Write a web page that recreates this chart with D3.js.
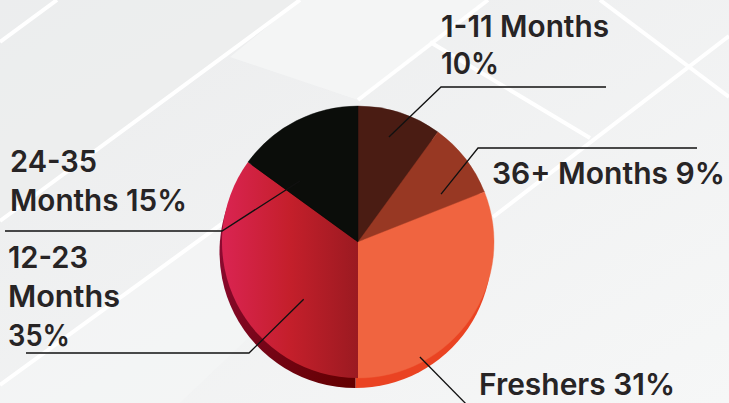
<!DOCTYPE html>
<html><head><meta charset="utf-8">
<script src="https://cdn.jsdelivr.net/npm/d3@7"></script>
<style>html,body{margin:0;padding:0;background:#eeefef;overflow:hidden}</style>
</head><body>
<svg id="c" width="729" height="403"></svg>
<script>
// ---- data ----
const categories = ["1-11 Months", "36+ Months", "Freshers", "12-23 Months", "24-35 Months"];
const values = [10, 9, 31, 35, 15];
const labelLines = [["1-11 Months", "10%"], ["36+ Months 9%"], ["Freshers 31%"], ["12-23", "Months", "35%"], ["24-35", "Months 15%"]];

// ---- styles / layout ----
const faceColors = ["#4a1c13", "#983823", "#f06440", "url(#g1223)", "#0b0d0a"];
const sideColors = ["#3a140d", "#7a2a18", "#ea4322", "url(#g1223s)", "#0b0d0a"];
const W = 729, H = 403, cx = 358, cy = 242, R = 136;
const depth = {dx: -2.5, dy: 10};
const labelLayout = [
  {x: 441, y: 37, lh: 37, widths: [168, 58], ptr: [16.4, 0.805], elbow: [441, 87], end: [606, 87]},
  {x: 492, y: 184, lh: 38, widths: [233], ptr: [60, 0.705], elbow: [478, 148], end: [697, 148]},
  {x: 479, y: 395, lh: 38, widths: [196], ptr: [151.7, 0.96], elbow: [472, 410], end: [472, 410]},
  {x: 8, y: 268, lh: 39, widths: [80, 112, 62], ptr: [223.5, 0.58], elbow: [249, 353], end: [26, 353]},
  {x: 10, y: 172, lh: 38.5, widths: [87, 177], ptr: [316.4, 0.62], elbow: [222, 231], end: [5, 231]}
];

const svg = d3.select("#c");
const defs = svg.append("defs");
const bg = defs.append("linearGradient").attr("id", "bgG").attr("x1", 0).attr("y1", 0).attr("x2", 1).attr("y2", 1);
bg.append("stop").attr("offset", 0).attr("stop-color", "#ebeced");
bg.append("stop").attr("offset", 1).attr("stop-color", "#f6f7f7");
const g1 = defs.append("linearGradient").attr("id", "g1223").attr("gradientUnits", "userSpaceOnUse")
  .attr("x1", -R).attr("y1", 0).attr("x2", 0).attr("y2", 0);
g1.append("stop").attr("offset", 0).attr("stop-color", "#da2452");
g1.append("stop").attr("offset", 0.5).attr("stop-color", "#c41f2b");
g1.append("stop").attr("offset", 1).attr("stop-color", "#9b1a21");
const g2 = defs.append("linearGradient").attr("id", "g1223s").attr("gradientUnits", "userSpaceOnUse")
  .attr("x1", -R).attr("y1", 0).attr("x2", 0).attr("y2", R);
g2.append("stop").attr("offset", 0).attr("stop-color", "#8c0a30");
g2.append("stop").attr("offset", 1).attr("stop-color", "#620000");

// background
svg.append("rect").attr("width", W).attr("height", H).attr("fill", "url(#bgG)");
const panels = [
  [[230, 57], [300, 0], [485, 0], [358, 100]],
  [[0, 385], [213, 230], [358, 125], [420, 175], [180, 403], [0, 403]],
  [[0, 221], [300, 0], [0, 0]]
];
svg.append("g").selectAll("path").data(panels).join("path")
  .attr("d", p => d3.line()(p) + "Z")
  .attr("fill", (d, i) => ["#f5f6f6", "#f4f5f5", "#ecedee"][i]).attr("opacity", 0.8);
const bgLines = [
  [[0, 42], [57, 0]],
  [[0, 221], [300, 0]],
  [[0, 385], [260, 196]],
  [[358, 100], [488, 0]],
  [[430, 42], [590, 138]],
  [[600, 0], [729, 97]],
  [[493, 217], [729, 36]]
];
svg.append("g").selectAll("path").data(bgLines).join("path")
  .attr("d", d3.line()).attr("stroke", "#ffffff").attr("stroke-width", 4).attr("fill", "none");

// pie
const pie = d3.pie().sort(null).value(d => d)(values);
const arc = d3.arc().innerRadius(0).outerRadius(R);
svg.append("g").attr("transform", `translate(${cx + depth.dx},${cy + depth.dy})`)
  .selectAll("path").data(pie).join("path").attr("d", arc).attr("fill", (d, i) => sideColors[i]);
svg.append("g").attr("transform", `translate(${cx},${cy})`)
  .selectAll("path").data(pie).join("path").attr("d", arc).attr("fill", (d, i) => faceColors[i])
  .attr("stroke", (d, i) => faceColors[i].startsWith("url") ? "none" : faceColors[i]).attr("stroke-width", 0.4);

// leaders
const lg = svg.append("g");
labelLayout.forEach((L, i) => {
  const a = L.ptr[0] * Math.PI / 180, r = L.ptr[1] * R;
  const p0 = [cx + r * Math.sin(a), cy - r * Math.cos(a)];
  lg.append("path").attr("d", d3.line()([p0, L.elbow, L.end]))
    .attr("stroke", "#111").attr("stroke-width", 1.3).attr("fill", "none");
});

// labels
const tg = svg.append("g").attr("font-family", "Inter, Lato, sans-serif")
  .attr("font-size", 30).attr("font-weight", 600).attr("fill", "#272425");
labelLines.forEach((lines, i) => {
  const L = labelLayout[i];
  lines.forEach((t, j) => {
    tg.append("text").attr("x", L.x).attr("y", L.y + j * L.lh)
      .attr("textLength", L.widths[j]).attr("lengthAdjust", "spacingAndGlyphs").text(t);
  });
});
</script>
</body></html>
